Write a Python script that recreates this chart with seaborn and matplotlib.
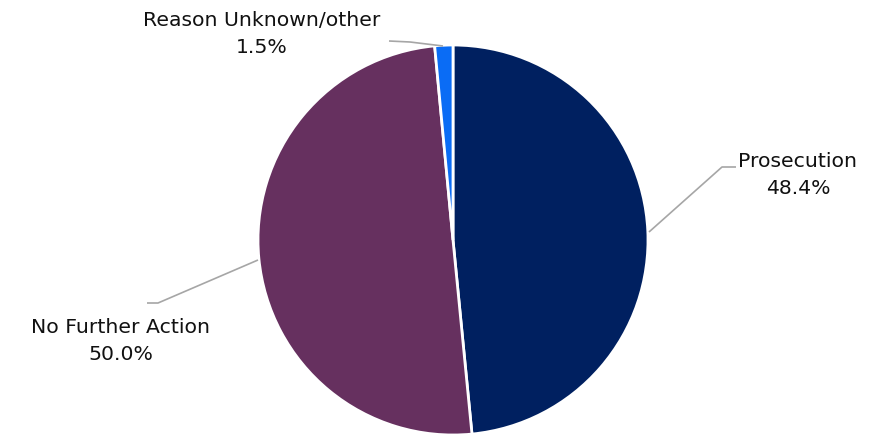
import matplotlib
matplotlib.use("Agg")
import matplotlib.pyplot as plt
import seaborn as sns

categories = ["Prosecution", "No Further Action", "Reason Unknown/other"]
values = [48.4, 50.0, 1.5]
pct_labels = ["48.4%", "50.0%", "1.5%"]
colors = ["#002060", "#66305F", "#0A6CF5"]

sns.set_theme(style="white")
plt.rcParams['font.family'] = ['DejaVu Sans']

W, H = 879, 434
fig = plt.figure(figsize=(W / 100, H / 100), dpi=100)
ax = fig.add_axes([0, 0, 1, 1])
ax.set_xlim(0, W)
ax.set_ylim(0, H)
ax.axis("off")

cx, cy, r = 453, H - 240, 195
ax.pie(values, colors=colors, startangle=90, counterclock=False,
       center=(cx, cy), radius=r, normalize=True,
       wedgeprops=dict(edgecolor="white", linewidth=2))
ax.set_xlim(0, W)
ax.set_ylim(0, H)
ax.set_aspect("equal")

# leader lines (pixel coordinates from top)
lines = [
    [(649, 232), (722, 167), (736, 167)],
    [(258, 260), (158, 303), (147, 303)],
    [(443, 46), (410, 42), (389, 41)],
]
for pts in lines:
    xs = [p[0] for p in pts]
    ys = [H - p[1] for p in pts]
    ax.plot(xs, ys, color="#A6A6A6", lw=1.2, solid_capstyle="butt")

label_pos = [(798, 175), (121, 341), (262, 34)]
for name, pct, (x, y) in zip(categories, pct_labels, label_pos):
    ax.text(x, H - y, f"{name}\n{pct}", ha="center", va="center",
            fontsize=14.7, color="#111111", linespacing=1.55)

fig.savefig("out.png", dpi=100)
